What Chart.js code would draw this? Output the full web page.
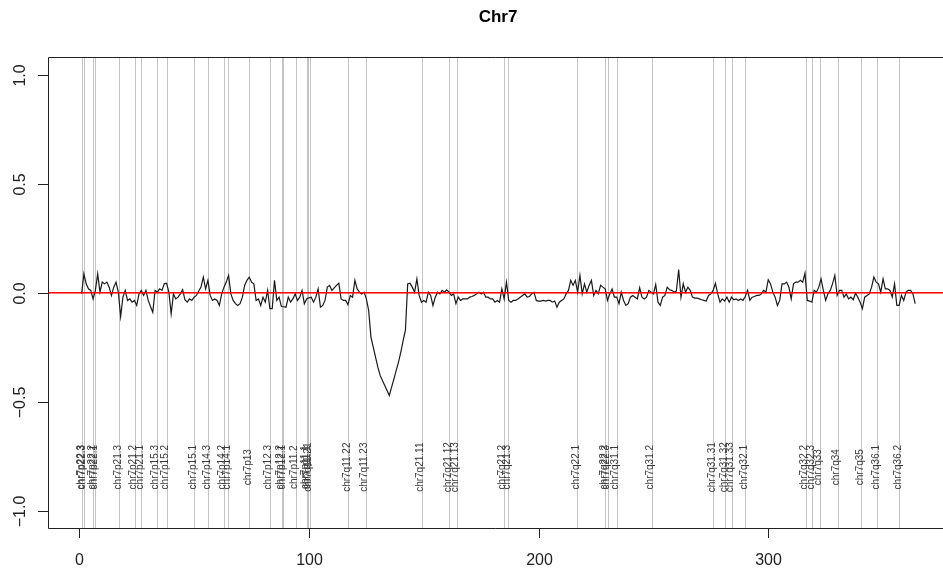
<!DOCTYPE html>
<html>
<head>
<meta charset="utf-8">
<title>Chr7</title>
<script src="https://cdn.jsdelivr.net/npm/chart.js@4.4.1/dist/chart.umd.min.js"></script>
<style>
  html, body { margin: 0; padding: 0; background: #fff; }
  #wrap { width: 943px; height: 570px; }
</style>
</head>
<body>
<div id="wrap"><canvas id="chr7" width="943" height="570"></canvas></div>
<script>
// log ratio per probe, chr7, probe index 1..364
const ratios = [
  -0.005, 0.087, 0.041, 0.018, 0.011, -0.028, 0.011, 0.087, 0.003, 0.049,
  0.041, 0.049, 0.026, -0.012, 0.026, 0.049, 0.003, -0.109, -0.020, 0.011,
  -0.035, -0.028, -0.043, -0.035, -0.058, -0.005, 0.011, -0.012, 0.011, -0.035,
  -0.063, -0.089, 0.011, 0.003, 0.018, 0.011, 0.041, 0.044, 0.003, -0.096,
  -0.005, -0.028, -0.020, -0.005, 0.014, -0.032, -0.043, -0.028, -0.035, -0.020,
  -0.012, 0.008, 0.026, 0.072, 0.018, 0.057, -0.012, -0.035, -0.028, -0.035,
  -0.058, -0.005, 0.026, 0.049, 0.080, -0.005, -0.035, -0.050, -0.058, -0.050,
  -0.020, 0.034, 0.057, 0.072, 0.049, 0.041, -0.035, -0.028, -0.058, -0.020,
  -0.043, 0.011, -0.073, -0.073, 0.057, -0.035, -0.020, -0.063, -0.064, -0.066,
  -0.020, -0.043, -0.028, -0.005, -0.035, -0.020, 0.011, -0.050, -0.028, -0.023,
  -0.020, -0.043, -0.020, 0.018, -0.066, -0.058, -0.035, 0.026, 0.034, 0.011,
  0.023, 0.034, 0.044, -0.028, -0.035, -0.035, -0.054, -0.012, -0.020, 0.057,
  0.018,
  0.003, -0.005, 0.003, -0.028, -0.081, -0.203, -0.249, -0.295, -0.341, -0.379,
  -0.402, -0.425, -0.448, -0.471, -0.433, -0.395, -0.356, -0.318, -0.272, -0.219,
  -0.173, 0.041, 0.044, 0.026, 0.003, 0.064, -0.012, -0.043, -0.035, -0.043,
  0.003, -0.012, -0.058, -0.020, 0.003, -0.005, 0.011, 0.003, 0.014, 0.003,
  -0.012, -0.005, -0.050, -0.020, -0.035, -0.028, -0.028, -0.028, -0.020, -0.017,
  -0.012, -0.005, 0.003, -0.005, 0.003, -0.020, -0.020, -0.028, -0.028, -0.043,
  -0.035, -0.043, 0.018, -0.028, 0.049, -0.035, -0.043, -0.035, -0.035, -0.028,
  -0.020, -0.012, -0.005, -0.020, -0.017, -0.005, 0.003, -0.035, -0.038, -0.038,
  -0.035, -0.038, -0.035, -0.035, -0.043, -0.038, -0.066, -0.043, -0.035, -0.028,
  -0.005, 0.011, 0.057, 0.034, 0.057, 0.003, 0.080, -0.005, 0.041, 0.003,
  0.034, 0.057, -0.012, 0.011, -0.005, 0.034, 0.026, 0.018, -0.035, -0.005,
  0.018, -0.020, -0.020, -0.050, 0.003, -0.035, -0.058, -0.050, -0.020, -0.012,
  -0.020, -0.028, 0.023, -0.020, -0.028, -0.020, 0.011, 0.003, -0.005, 0.038,
  -0.043, -0.058, -0.020, -0.012, 0.026, 0.014, 0.011, 0.003, 0.008, 0.106,
  -0.020, 0.041, 0.003, 0.026, 0.011, -0.020, -0.024, -0.024, -0.028, -0.032,
  -0.035, -0.038, -0.012, -0.005, 0.011, 0.044, -0.005, -0.043, -0.028, -0.038,
  -0.020, -0.043, -0.020, -0.032, -0.028, -0.035, -0.028, -0.035, -0.017, 0.011,
  -0.035, -0.020, -0.017, -0.012, -0.012, -0.005, 0.011, 0.003, 0.060, 0.041,
  0.003, -0.020, -0.058, -0.035, 0.041, 0.041, 0.049, 0.026, -0.028, 0.041,
  0.049, 0.049, 0.057, 0.049, 0.090, -0.035, -0.038, -0.043, 0.011, 0.003,
  0.026, 0.064, 0.011, -0.035, -0.005, 0.011, 0.041, 0.080, -0.012, 0.011,
  0.011, -0.020, -0.005, -0.028, -0.020, -0.032, -0.002, -0.020, -0.043, -0.073,
  -0.020, -0.012, -0.005, 0.026, 0.072, 0.049, 0.041, 0.003, 0.064, 0.018,
  0.018, 0.011, -0.020, 0.041, -0.058, -0.058, -0.012, -0.035, 0.003, 0.011,
  0.011, -0.005, -0.050
];

// cytoband start positions (probe index) and names
const bandPos = [1.2, 2.0, 6.1, 7.0, 17.3, 24.2, 26.9, 33.8, 38.0, 50.1,
  56.2, 63.0, 64.9, 74.0, 83.0, 88.1, 88.8, 94.2, 99.0, 99.7, 100.4,
  117.1, 124.8, 149.1, 161.0, 164.3, 184.9, 186.8, 216.9, 229.1, 230.1, 234.0,
  249.2, 276.1, 281.3, 284.1, 290.0, 316.3, 319.2, 322.4, 330.2, 340.4, 347.4, 357.1];
const bandNames = ['chr7p22.3', 'chr7p22.3', 'chr7p22.2', 'chr7p22.1', 'chr7p21.3',
  'chr7p21.2', 'chr7p21.1', 'chr7p15.3', 'chr7p15.2', 'chr7p15.1',
  'chr7p14.3', 'chr7p14.2', 'chr7p14.1', 'chr7p13', 'chr7p12.3', 'chr7p12.2', 'chr7p12.1',
  'chr7p11.2', 'chr7p11.1', 'chr7q11.1', 'chr7q11.21',
  'chr7q11.22', 'chr7q11.23', 'chr7q21.11', 'chr7q21.12', 'chr7q21.13', 'chr7q21.2', 'chr7q21.3',
  'chr7q22.1', 'chr7q22.2', 'chr7q22.3', 'chr7q31.1',
  'chr7q31.2', 'chr7q31.31', 'chr7q31.32', 'chr7q31.33', 'chr7q32.1', 'chr7q32.2', 'chr7q32.3',
  'chr7q33', 'chr7q34', 'chr7q35', 'chr7q36.1', 'chr7q36.2'];

const xTicks = [0, 100, 200, 300];
const yTicks = [-1, -0.5, 0, 0.5, 1];
const yTickLabels = ['\u22121.0', '\u22120.5', '0.0', '0.5', '1.0'];
const bandLabelY = -0.8;

const points = ratios.map((v, i) => ({ x: i + 1, y: v }));

// R-style frame, bands, ticks and title
const rPlot = {
  id: 'rPlot',
  beforeDatasetsDraw(chart) {
    const { ctx, chartArea: a, scales: { x, y } } = chart;
    ctx.save();
    ctx.strokeStyle = '#c4c4c4';
    ctx.lineWidth = 1;
    bandPos.forEach(p => {
      const px = Math.round(x.getPixelForValue(p)) + 0.5;
      ctx.beginPath();
      ctx.moveTo(px, a.top);
      ctx.lineTo(px, a.bottom);
      ctx.stroke();
    });
    ctx.fillStyle = '#3a3a3a';
    ctx.font = '10px "Liberation Sans", Arial, sans-serif';
    ctx.textAlign = 'center';
    ctx.textBaseline = 'alphabetic';
    const ly = y.getPixelForValue(bandLabelY);
    bandPos.forEach((p, i) => {
      ctx.save();
      ctx.translate(x.getPixelForValue(p) + 1.5, ly);
      ctx.rotate(-Math.PI / 2);
      ctx.fillText(bandNames[i], 0, 0);
      ctx.restore();
    });
    ctx.restore();
  },
  afterDatasetsDraw(chart) {
    const { ctx, chartArea: a, scales: { x, y } } = chart;
    ctx.save();
    // zero line
    const y0 = y.getPixelForValue(0);
    ctx.fillStyle = 'rgb(255, 0, 0)';
    ctx.fillRect(a.left, y0 - 0.75, a.right - a.left, 1.5);

    // frame (right side falls outside the picture)
    ctx.strokeStyle = '#222';
    ctx.lineWidth = 1;
    ctx.beginPath();
    ctx.moveTo(a.right, a.top + 0.5);
    ctx.lineTo(a.left + 0.5, a.top + 0.5);
    ctx.lineTo(a.left + 0.5, a.bottom + 0.5);
    ctx.lineTo(a.right, a.bottom + 0.5);
    ctx.stroke();

    ctx.fillStyle = '#222';
    ctx.font = '16px "Liberation Sans", Arial, sans-serif';
    ctx.textAlign = 'center';
    ctx.textBaseline = 'alphabetic';
    xTicks.forEach(t => {
      const px = Math.round(x.getPixelForValue(t)) + 0.5;
      ctx.beginPath();
      ctx.moveTo(px, a.bottom);
      ctx.lineTo(px, a.bottom + 10);
      ctx.stroke();
      ctx.fillText(String(t), px, a.bottom + 37);
    });
    yTicks.forEach((t, i) => {
      const py = Math.round(y.getPixelForValue(t)) + 0.5;
      ctx.beginPath();
      ctx.moveTo(a.left - 10, py);
      ctx.lineTo(a.left, py);
      ctx.stroke();
      ctx.save();
      ctx.translate(a.left - 23, py);
      ctx.rotate(-Math.PI / 2);
      ctx.fillText(yTickLabels[i], 0, 0);
      ctx.restore();
    });

    ctx.fillStyle = '#000';
    ctx.font = 'bold 17px "Liberation Sans", Arial, sans-serif';
    ctx.textBaseline = 'middle';
    ctx.fillText('Chr7', 498, 17);
    ctx.restore();
  }
};

new Chart(document.getElementById('chr7'), {
  type: 'line',
  data: {
    datasets: [{
      data: points,
      borderColor: '#1a1a1a',
      borderWidth: 1.2,
      pointRadius: 0,
      tension: 0,
      fill: false
    }]
  },
  options: {
    responsive: false,
    animation: false,
    devicePixelRatio: 1,
    layout: { padding: { left: 48, top: 57, right: 0, bottom: 42 } },
    plugins: { legend: { display: false }, tooltip: { enabled: false } },
    scales: {
      x: { type: 'linear', min: -13.63, max: 376.1, display: false },
      y: { type: 'linear', min: -1.079, max: 1.0817, display: false }
    }
  },
  plugins: [rPlot]
});
</script>
</body>
</html>
